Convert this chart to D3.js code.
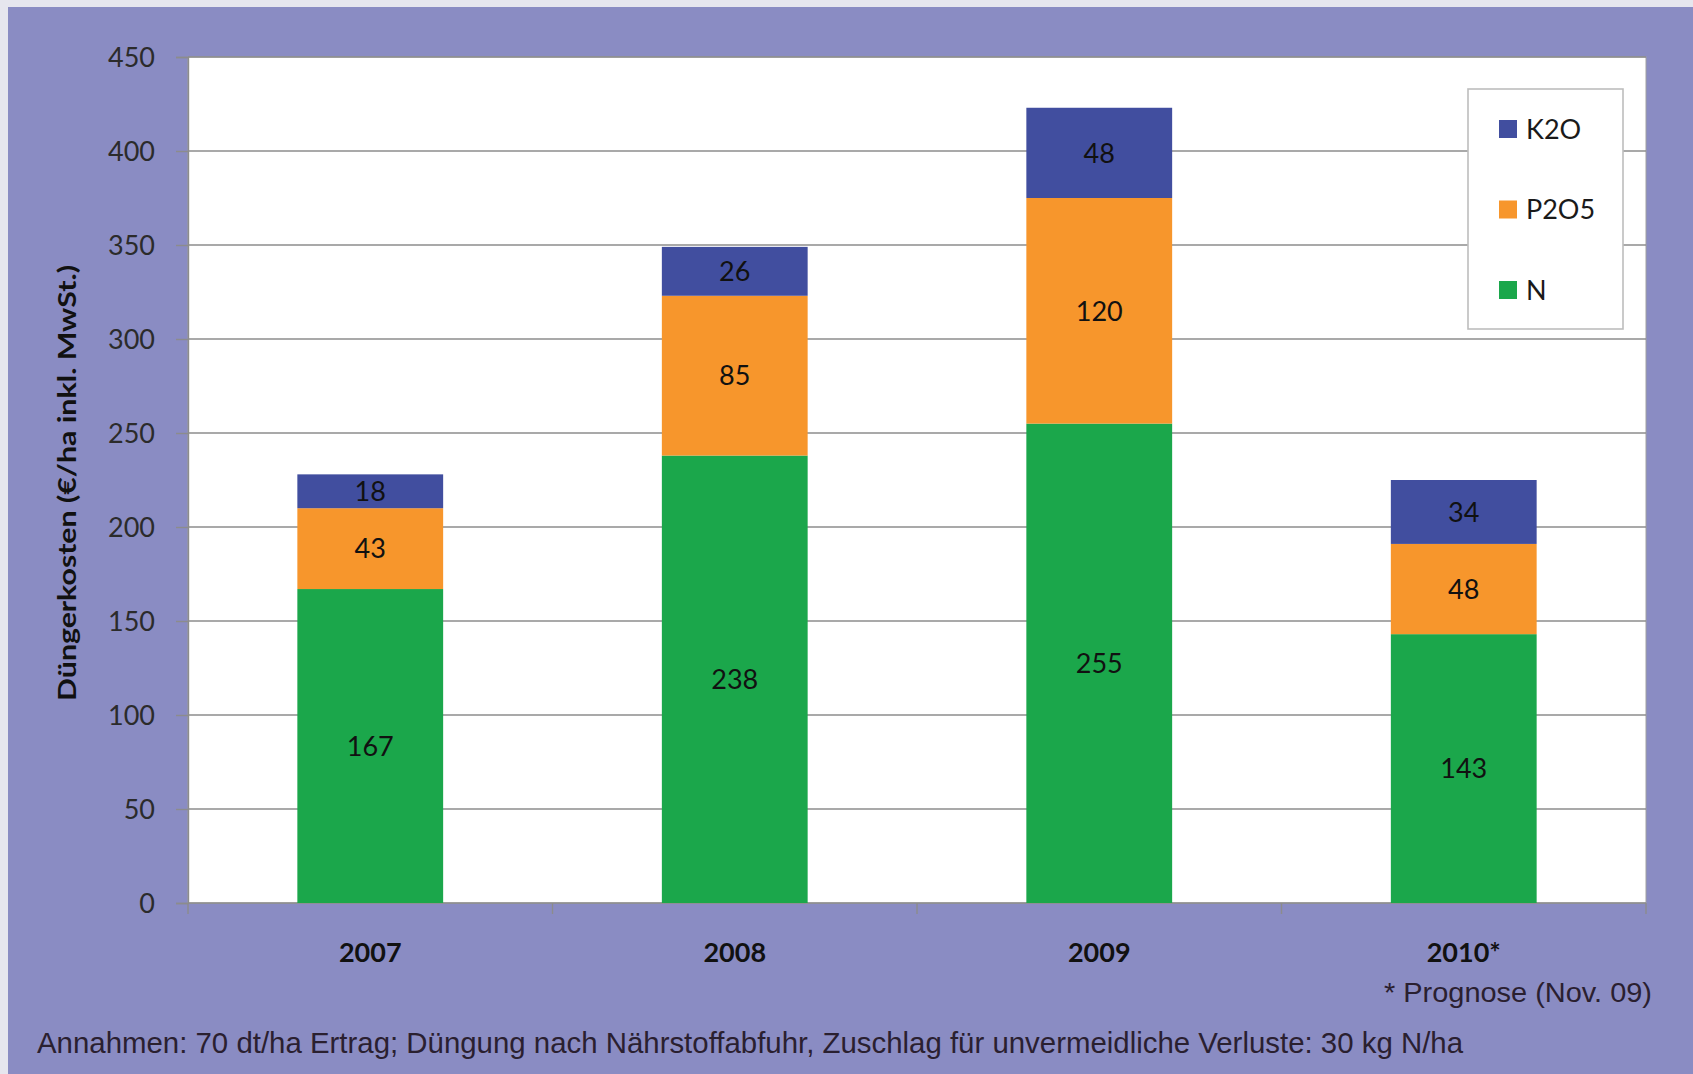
<!DOCTYPE html>
<html>
<head>
<meta charset="utf-8">
<script src="https://cdn.jsdelivr.net/npm/d3@7"></script>
<style>
    body { margin: 0; background: #ffffff; }
    svg { display: block; }
    .tickLabel { font-family: Lato, "Open Sans", sans-serif; font-size: 27px; fill: #2b2b2b; }
    .catLabel { font-family: Lato, "Open Sans", sans-serif; font-size: 27px; font-weight: bold; fill: #111; }
    .barLabel { font-family: Lato, "Open Sans", sans-serif; font-size: 27px; fill: #111; }
    .legendText { font-family: Lato, "Open Sans", sans-serif; font-size: 27px; fill: #1a1a1a; }
    .axisTitle { font-family: Lato, "Open Sans", sans-serif; font-size: 25px; font-weight: bold; fill: #111; }
    .note { font-family: "Liberation Sans", Arial, sans-serif; fill: #2a2030; }
</style>
</head>
<body>
<script>
(function () {

//chart data
    var years = ["2007", "2008", "2009", "2010*"];
    var seriesNames = ["N", "P2O5", "K2O"];            //stack order, bottom to top
    var nValues = [167, 238, 255, 143];
    var p2o5Values = [43, 85, 120, 48];
    var k2oValues = [18, 26, 48, 34];
    var yTicks = [0, 50, 100, 150, 200, 250, 300, 350, 400, 450];
    var legendOrder = ["K2O", "P2O5", "N"];

    var colors = {
        "N": "#1ba74b",
        "P2O5": "#f7962c",
        "K2O": "#414e9f"
    };

    //frame dimensions
    var width = 1693,
        height = 1074,
        plotLeft = 188,
        plotRight = 1646,
        plotTop = 57,
        plotBottom = 903;

    //build rows for the stack layout
    var rows = years.map(function (y, i) {
        return {year: y, "N": nValues[i], "P2O5": p2o5Values[i], "K2O": k2oValues[i]};
    });

    var stacked = d3.stack().keys(seriesNames)(rows);

    var svg = d3.select("body")
        .append("svg")
        .attr("width", width)
        .attr("height", height);

    //purple frame
    svg.append("rect")
        .attr("x", 0)
        .attr("y", 0)
        .attr("width", width)
        .attr("height", height)
        .style("fill", "#e6e6ee");

    svg.append("rect")
        .attr("x", 8)
        .attr("y", 7)
        .attr("width", width - 8)
        .attr("height", height - 7)
        .style("fill", "#8a8cc3");

    //scales
    var xScale = d3.scaleBand()
        .domain(years)
        .range([plotLeft, plotRight])
        .paddingInner(0.6)
        .paddingOuter(0.3);

    var yScale = d3.scaleLinear()
        .domain([0, 450])
        .range([plotBottom, plotTop]);

    //plot area
    svg.append("rect")
        .attr("x", plotLeft)
        .attr("y", plotTop)
        .attr("width", plotRight - plotLeft)
        .attr("height", plotBottom - plotTop)
        .style("fill", "#ffffff")
        .style("stroke", "#a0a0a0")
        .style("stroke-width", 1);

    //gridlines
    svg.selectAll(".grid")
        .data(yTicks.slice(1))
        .enter()
        .append("line")
        .attr("class", "grid")
        .attr("x1", plotLeft)
        .attr("x2", plotRight)
        .attr("y1", function (d) { return yScale(d); })
        .attr("y2", function (d) { return yScale(d); })
        .style("stroke", "#8c8c8c")
        .style("stroke-width", 1.4);

    //y axis
    var yAxis = d3.axisLeft(yScale)
        .tickValues(yTicks)
        .tickSize(12)
        .tickPadding(21);

    var yAxisG = svg.append("g")
        .attr("transform", "translate(" + plotLeft + ",0)")
        .call(yAxis);

    yAxisG.select(".domain").style("stroke", "#8c8c8c").style("stroke-width", 1.4);
    yAxisG.selectAll(".tick line").style("stroke", "#8c8c8c").style("stroke-width", 1.4);
    yAxisG.selectAll(".tick text")
        .attr("class", "tickLabel")
        .attr("dy", "0.36em");

    //x axis line and category boundary ticks
    var step = xScale.step();
    var boundaries = d3.range(years.length + 1).map(function (i) {
        return plotLeft + i * step;
    });

    svg.append("line")
        .attr("x1", plotLeft)
        .attr("x2", plotRight)
        .attr("y1", plotBottom)
        .attr("y2", plotBottom)
        .style("stroke", "#8c8c8c")
        .style("stroke-width", 1.6);

    svg.selectAll(".xTick")
        .data(boundaries)
        .enter()
        .append("line")
        .attr("class", "xTick")
        .attr("x1", function (d) { return d; })
        .attr("x2", function (d) { return d; })
        .attr("y1", plotBottom)
        .attr("y2", plotBottom + 11)
        .style("stroke", "#8c8c8c")
        .style("stroke-width", 1.4);

    //category labels
    svg.selectAll(".catLabel")
        .data(years)
        .enter()
        .append("text")
        .attr("class", "catLabel")
        .attr("x", function (d) { return xScale(d) + xScale.bandwidth() / 2; })
        .attr("y", 962)
        .attr("text-anchor", "middle")
        .text(function (d) { return d; });

    //stacked bars
    var layers = svg.selectAll(".layer")
        .data(stacked)
        .enter()
        .append("g")
        .attr("class", "layer")
        .style("fill", function (d) { return colors[d.key]; });

    layers.selectAll("rect")
        .data(function (d) { return d; })
        .enter()
        .append("rect")
        .attr("x", function (d) { return xScale(d.data.year); })
        .attr("y", function (d) { return yScale(d[1]); })
        .attr("width", xScale.bandwidth())
        .attr("height", function (d) { return yScale(d[0]) - yScale(d[1]); });

    //value labels centred in each segment
    layers.selectAll(".barLabel")
        .data(function (d) { return d.map(function (s) { s.key = d.key; return s; }); })
        .enter()
        .append("text")
        .attr("class", "barLabel")
        .attr("x", function (d) { return xScale(d.data.year) + xScale.bandwidth() / 2; })
        .attr("y", function (d) { return yScale((d[0] + d[1]) / 2); })
        .attr("dy", "0.36em")
        .attr("text-anchor", "middle")
        .text(function (d) { return d.data[d.key]; });

    //y axis title
    svg.append("text")
        .attr("class", "axisTitle")
        .attr("transform", "translate(76,483) rotate(-90)")
        .attr("text-anchor", "middle")
        .attr("textLength", 436)
        .attr("lengthAdjust", "spacingAndGlyphs")
        .text("Düngerkosten (€/ha inkl. MwSt.)");

    //legend
    var legend = svg.append("g")
        .attr("class", "legend");

    legend.append("rect")
        .attr("x", 1468)
        .attr("y", 89)
        .attr("width", 155)
        .attr("height", 240)
        .style("fill", "#ffffff")
        .style("stroke", "#bdbdbd")
        .style("stroke-width", 1.6);

    var legendY = d3.scalePoint()
        .domain(legendOrder)
        .range([129, 290]);

    var items = legend.selectAll(".legendItem")
        .data(legendOrder)
        .enter()
        .append("g")
        .attr("class", "legendItem")
        .attr("transform", function (d) { return "translate(1499," + legendY(d) + ")"; });

    items.append("rect")
        .attr("x", 0)
        .attr("y", -9)
        .attr("width", 18)
        .attr("height", 18)
        .style("fill", function (d) { return colors[d]; });

    items.append("text")
        .attr("class", "legendText")
        .attr("x", 27)
        .attr("y", 0)
        .attr("dy", "0.36em")
        .text(function (d) { return d; });

    //footnotes
    svg.append("text")
        .attr("class", "note")
        .attr("x", 1652)
        .attr("y", 1002)
        .attr("text-anchor", "end")
        .attr("textLength", 268)
        .attr("lengthAdjust", "spacingAndGlyphs")
        .style("font-size", "27px")
        .text("* Prognose (Nov. 09)");

    svg.append("text")
        .attr("class", "note")
        .attr("x", 37)
        .attr("y", 1053)
        .attr("textLength", 1426)
        .attr("lengthAdjust", "spacingAndGlyphs")
        .style("font-size", "30px")
        .text("Annahmen: 70 dt/ha Ertrag; Düngung nach Nährstoffabfuhr, Zuschlag für unvermeidliche Verluste: 30 kg N/ha");

})();
</script>
</body>
</html>
